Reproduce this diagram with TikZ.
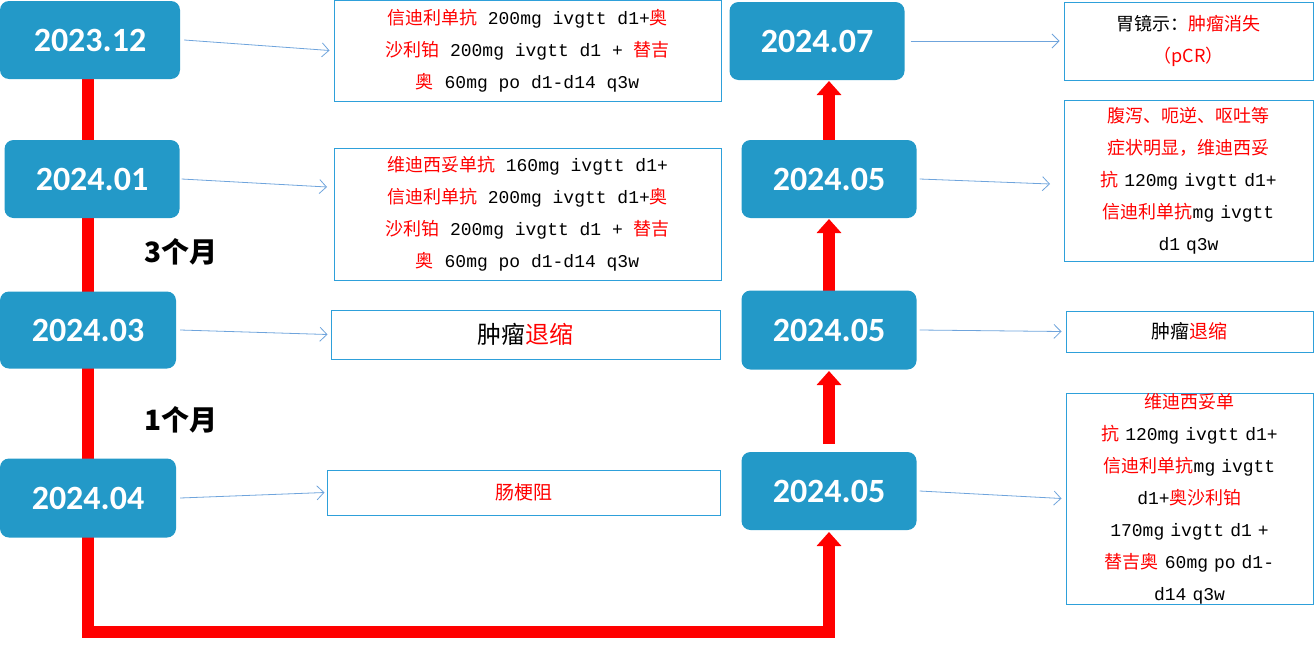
\documentclass[tikz,border=0pt]{standalone}
\usepackage{fontspec}
\setmainfont{Liberation Mono}
\newfontfamily\cjf{Noto Sans CJK SC}
\newfontfamily\datef{Carlito}
\newcommand{\rc}[1]{{\cjf\color{red}#1}}
\newcommand{\bc}[1]{{\cjf #1}}
\usetikzlibrary{arrows.meta}
\definecolor{dbl}{HTML}{2399C8}
\definecolor{lbl}{HTML}{2EA0DA}
\definecolor{abl}{HTML}{6FA4DC}
\begin{document}
\begin{tikzpicture}[x=1pt,y=-1pt,
 date/.style={fill=dbl,rounded corners=9pt,text=white,font=\datef\bfseries\fontsize{34}{34}\selectfont,inner sep=0pt},
 tbox/.style={draw=lbl,line width=1pt,inner sep=0pt,align=center,font=\fontsize{18}{32}\selectfont},
 thin/.style={abl,line width=0.8pt,-{Straight Barb[length=7pt,width=14pt]}},
 redl/.style={red,line width=12pt},
 reda/.style={red,line width=12pt,-{Triangle[length=14pt,width=24pt]}},
 lab/.style={font=\cjf\bfseries\fontsize{28}{28}\selectfont}]
\useasboundingbox (0,0) rectangle (1315,648);
% red path
\draw[redl,line join=miter] (88,78) -- (88,632) -- (829,632) -- (829,548);
\draw[reda] (829,560) -- (829,532);
\draw[reda] (829,444) -- (829,371);
\draw[reda] (829,291) -- (829,219);
\draw[reda] (829,140) -- (829,81);
% date boxes
\node[date,minimum width=180pt,minimum height=78pt] (d1) at (90,40) {2023.12};
\node[date,minimum width=175pt,minimum height=78pt] (d2) at (92,179) {2024.01};
\node[date,minimum width=176pt,minimum height=77pt] (d3) at (88,330) {2024.03};
\node[date,minimum width=176pt,minimum height=79pt] (d4) at (88,498) {2024.04};
\node[date,minimum width=175pt,minimum height=78pt] (e1) at (817,41) {2024.07};
\node[date,minimum width=175pt,minimum height=78pt] (e2) at (829,179) {2024.05};
\node[date,minimum width=175pt,minimum height=79pt] (e3) at (829,330) {2024.05};
\node[date,minimum width=175pt,minimum height=78pt] (e4) at (829,491) {2024.05};
% text boxes
\node[tbox,minimum width=387pt,minimum height=101pt] (t1) at (527.5,50.5) {\rc{信迪利单抗} 200mg ivgtt d1+\rc{奥}\\\rc{沙利铂} 200mg ivgtt d1 + \rc{替吉}\\\rc{奥} 60mg po d1-d14 q3w};
\node[tbox,minimum width=387pt,minimum height=132pt] (t2) at (527.5,214) {\bc{}\rc{维迪西妥单抗} 160mg ivgtt d1+\\\rc{信迪利单抗} 200mg ivgtt d1+\rc{奥}\\\rc{沙利铂} 200mg ivgtt d1 + \rc{替吉}\\\rc{奥} 60mg po d1-d14 q3w};
\node[tbox,minimum width=389pt,minimum height=49pt,font=\cjf\fontsize{24}{24}\selectfont] (t3) at (525.5,334.5) {肿瘤\textcolor{red}{退缩}};
\node[tbox,minimum width=393pt,minimum height=45pt,font=\cjf\fontsize{19}{19}\selectfont] (t4) at (523.5,492.5) {\textcolor{red}{肠梗阻}};
\node[tbox,minimum width=249pt,minimum height=78pt] (s1) at (1188.5,41) {\bc{胃镜示：}\rc{肿瘤消失}\\\rc{（pCR）}};
\node[tbox,minimum width=249pt,minimum height=161pt,text width=240pt] (s2) at (1188.5,180.5) {\rc{腹泻、呃逆、呕吐等}\\\rc{症状明显，维迪西妥}\\\rc{抗} 120mg ivgtt d1+\\\rc{信迪利单抗}mg ivgtt\\d1 q3w};
\node[tbox,minimum width=247pt,minimum height=41pt,font=\cjf\fontsize{19}{19}\selectfont] (s3) at (1189.5,331.5) {肿瘤\textcolor{red}{退缩}};
\node[tbox,minimum width=247pt,minimum height=211pt,text width=240pt] (s4) at (1189.5,498.5) {\rc{维迪西妥单}\\\rc{抗} 120mg ivgtt d1+\\\rc{信迪利单抗}mg ivgtt\\d1+\rc{奥沙利铂}\\170mg ivgtt d1 +\\\rc{替吉奥} 60mg po d1-\\d14 q3w};
% connectors
\draw[thin] (d1.east) ++(4,0) -- ([xshift=-4pt]t1.west);
\draw[thin] (d2.east) ++(2,0) -- (327,187);
\draw[thin] (d3.east) ++(4,0) -- ([xshift=-3pt]t3.west);
\draw[thin] (d4.east) ++(4,0) -- ([xshift=-2pt]t4.west);
\draw[thin] (e1.east) ++(6,0) -- ([xshift=-4pt]s1.west);
\draw[thin] (e2.east) ++(3,0) -- (1050,184);
\draw[thin] (e3.east) ++(3,0) -- ([xshift=-4pt]s3.west);
\draw[thin] (e4.east) ++(3,0) -- ([xshift=-4pt]s4.west);
% labels
\node[lab] (m3) at (181,252) {3个月};
\node[lab] (m1) at (181,420) {1个月};
\end{tikzpicture}
\end{document}
